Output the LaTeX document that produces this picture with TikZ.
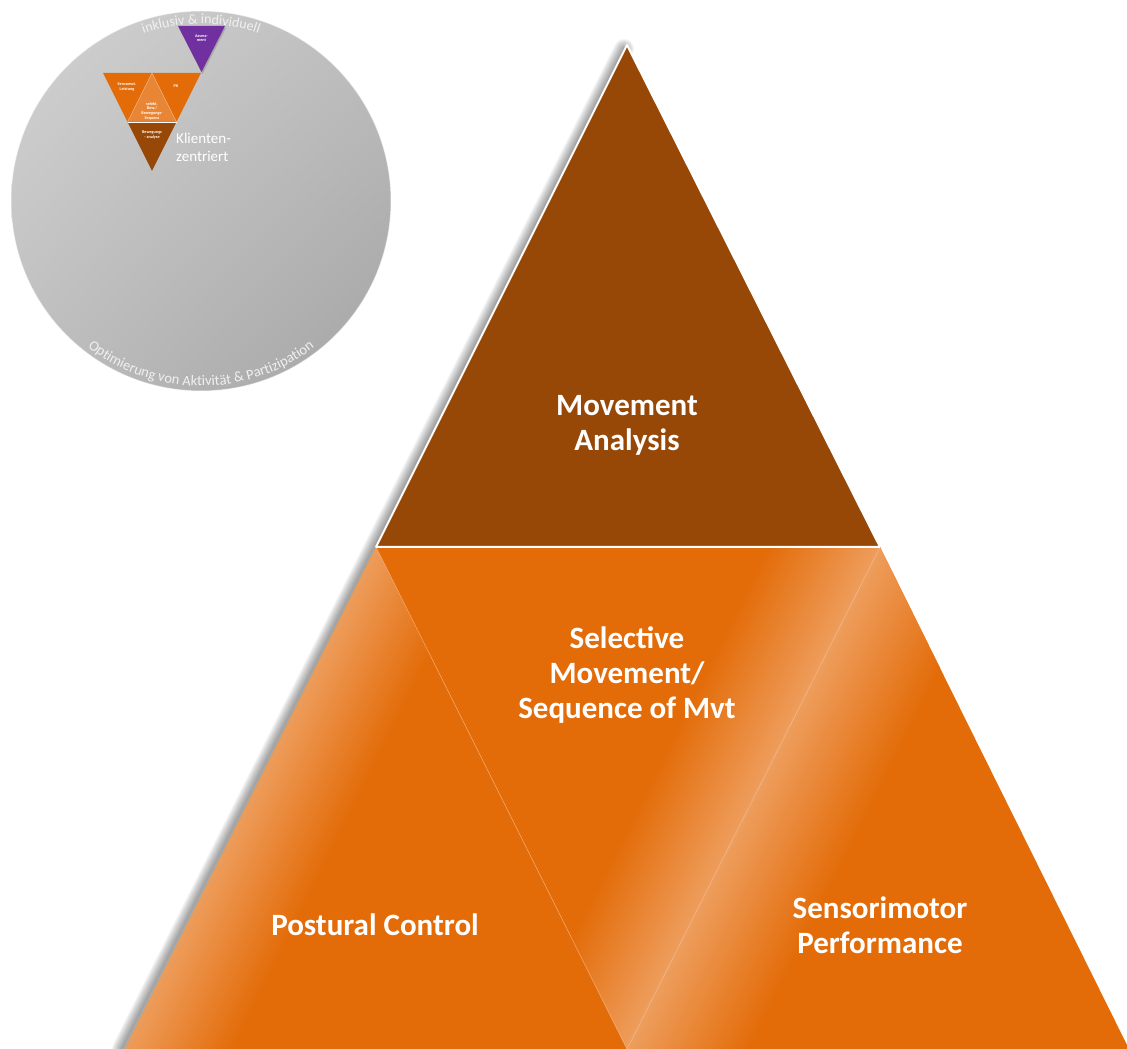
\documentclass[tikz,border=0pt]{standalone}
\usepackage{fontspec}
\setmainfont{Carlito}
\usepackage{tikz}
\usetikzlibrary{decorations.text, shadings}

\definecolor{mvtbrown}{RGB}{152,72,6}
\definecolor{mvtorange}{RGB}{227,108,9}
\definecolor{mvtlight}{RGB}{238,158,94}
\definecolor{mvtpurple}{RGB}{112,48,160}
\definecolor{disclight}{RGB}{210,210,210}
\definecolor{discmid}{RGB}{190,190,190}
\definecolor{discdark}{RGB}{164,164,164}
\definecolor{discfont}{RGB}{240,240,240}

\tikzset{
  bigtext/.style={text=white, align=center, font=\fontsize{31}{35}\selectfont\bfseries},
  minitext/.style={text=white, align=center, inner sep=0pt, font=\fontsize{4.2}{4.6}\selectfont\bfseries},
  clienttext/.style={text=white, align=left, inner sep=0pt, font=\fontsize{15}{18}\selectfont},
  seam/.style={white, opacity=0.35, line width=0.6}
}

\begin{document}
\begin{tikzpicture}[x=1pt, y=1pt]
    \useasboundingbox (0, 0) rectangle (1127, 1049);
    % disc
    \coordinate (disc) at (201, 848);
    \shade [upper left=disclight, upper right=discmid, lower left=discmid, lower right=discdark] (disc) circle (190);
    \draw [white, opacity=0.5, line width=1]       (disc) circle (190);
    \path [decorate, decoration={text along path, text align=center,
        text={|\fontsize{14}{16}\selectfont\color{discfont}|inklusiv {\&} individuell}}]
        ([shift={(113:177)}]disc) arc (113:67:177);
    \path [decorate, decoration={text along path, text align=center,
        text={|\fontsize{14.5}{16}\selectfont\color{discfont}|Optimierung von Aktivität {\&} Partizipation}}]
        ([shift={(225:185)}]disc) arc (225:315:185);
    % Assessment
    \fill [black, opacity=0.15]   (179, 1021) -- (226, 1021) -- (202.5, 975) -- cycle;
    \fill [mvtpurple]             (178, 1023) -- (225, 1023) -- (201.5, 977) -- cycle;
    \node [minitext] (assess) at (201.5, 1011) {Assess-\\ment};
    % small pyramid
    \fill [mvtorange]             (103, 976) -- (152, 976) -- (127.5, 927) -- cycle;
    \fill [mvtorange]             (152, 976) -- (201, 976) -- (176.5, 927) -- cycle;
    \fill [mvtorange!82!white]    (152, 976) -- (127.5, 927) -- (176.5, 927) -- cycle;
    \fill [mvtbrown]              (127.5, 927) -- (176.5, 927) -- (152, 878) -- cycle;
    \draw [seam]                  (127.5, 927) -- (152, 976) -- (176.5, 927);
    \draw [white, line width=0.5] (127.5, 927) -- (176.5, 927);
    \node [minitext] (sensomot) at (127, 962) {Sensomot.\\Leistung};
    \node [minitext] (pk) at (176, 963) {PK};
    \node [minitext] (selekt) at (152, 938) {selekt.\\Bew./\\Bewegungs-\\Sequenz};
    \node [minitext] (bewanalyse) at (152, 914) {Bewegungs\\- analyse};
    \node [clienttext, anchor=west] (klienten) at (176, 902) {Klienten-\\zentriert};
    % shadow
    \foreach \w in {2,4,...,20}
      \draw [black, opacity=0.045, line width=\w, line cap=round]  (624, 1000) -- (122, 0);
    % Movement Analysis
    \fill [mvtbrown]        (627, 1004) -- (880, 502) -- (376, 502) -- cycle;
    \draw [white, line width=2, line join=round]  (627, 1004) -- (880, 502) -- (376, 502) -- cycle;
    % Postural Control
    \fill [mvtorange]       (376, 502) -- (125, 0) -- (627, 0) -- cycle;
    \begin{scope}
      \clip (376, 502) -- (125, 0) -- (627, 0) -- cycle;
      \begin{scope}[transform canvas={cm={1,0,0.5,1,(0,0)}}]
        \shade [left color=mvtlight, right color=mvtorange] (120, 0) rectangle (232, 502);
      \end{scope}
    \end{scope}
    % Selective Movement
    \fill [mvtorange]       (376, 502) -- (880, 502) -- (627, 0) -- cycle;
    \begin{scope}
      \clip (376, 502) -- (880, 502) -- (627, 0) -- cycle;
      \begin{scope}[transform canvas={cm={1,0,0.504,1,(0,0)}}]
        \shade [left color=mvtorange, right color=mvtlight] (515, 0) rectangle (629, 502);
      \end{scope}
    \end{scope}
    % Sensorimotor Performance
    \fill [mvtorange]       (880, 502) -- (627, 0) -- (1129, 0) -- cycle;
    \begin{scope}
      \clip (880, 502) -- (627, 0) -- (1129, 0) -- cycle;
      \begin{scope}[transform canvas={cm={1,0,0.504,1,(0,0)}}]
        \shade [left color=mvtlight, right color=mvtorange] (625, 0) rectangle (748, 502);
      \end{scope}
    \end{scope}
    \draw [seam]                  (376, 502) -- (627, 0) -- (880, 502);
    \draw [white, line width=1.5] (376, 502) -- (880, 502);
    % labels
    \node [bigtext] (mvtanalysis) at (627, 624) {Movement\\Analysis};
    \node [bigtext] (selmvt) at (627, 374) {Selective\\Movement/\\Sequence of Mvt};
    \node [bigtext] (postural) at (375, 124) {Postural Control};
    \node [bigtext] (sensorimotor) at (880, 124) {Sensorimotor\\Performance};
\end{tikzpicture}
\end{document}
